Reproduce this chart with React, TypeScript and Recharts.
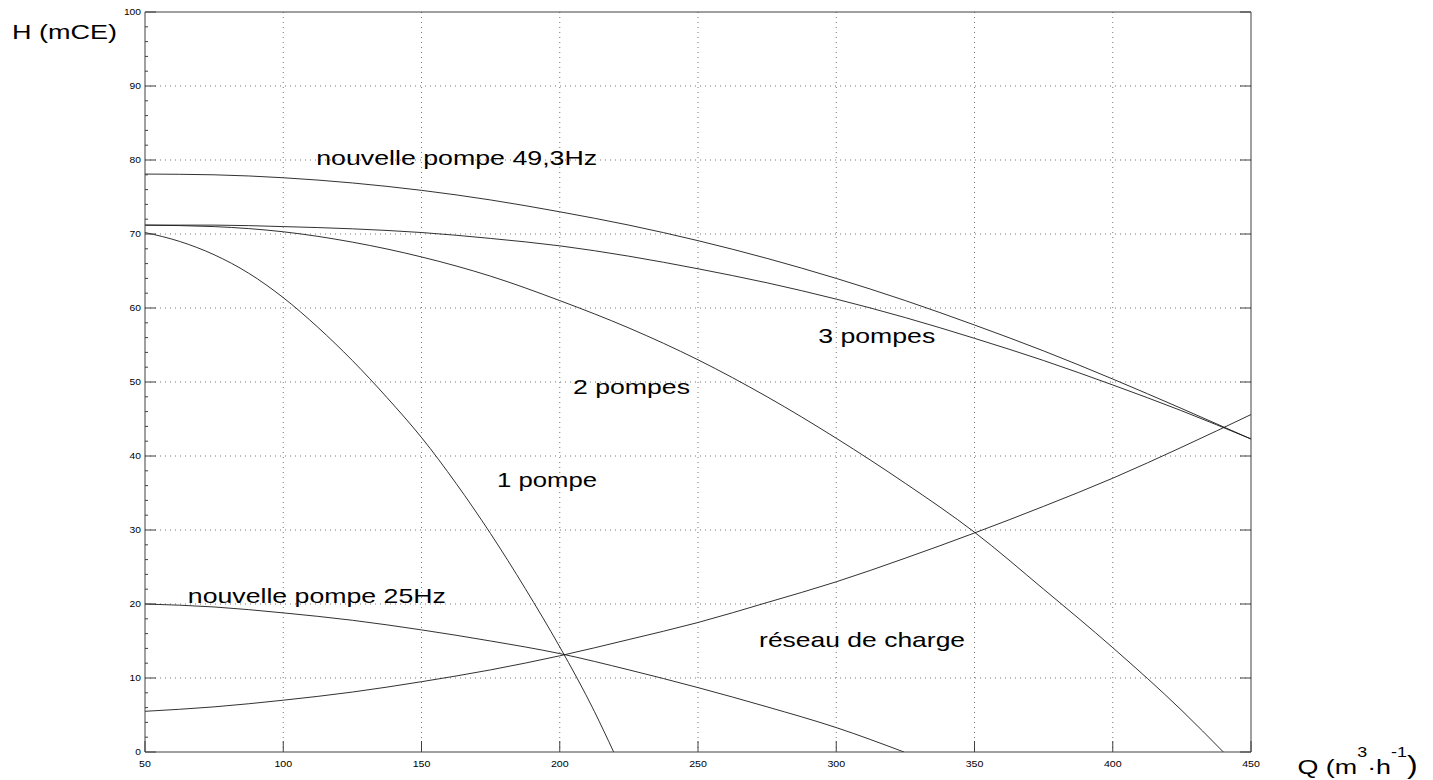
import React from 'react';
import { LineChart, Line, XAxis, YAxis, CartesianGrid, ReferenceDot, Label } from 'recharts';

const Q_TICKS = [50, 100, 150, 200, 250, 300, 350, 400, 450];
const H_TICKS = [0, 2, 4, 6, 8, 10, 12, 14, 16, 18, 20, 22, 24, 26, 28, 30, 32, 34, 36, 38, 40, 42, 44, 46, 48, 50, 52, 54, 56, 58, 60, 62, 64, 66, 68, 70, 72, 74, 76, 78, 80, 82, 84, 86, 88, 90, 92, 94, 96, 98, 100];
const H_MAJOR = [0, 10, 20, 30, 40, 50, 60, 70, 80, 90, 100];
const GRID_H = [10, 20, 30, 40, 50, 60, 70, 80, 90];
const GRID_Q = [100, 150, 200, 250, 300, 350, 400];

// nouvelle pompe 49,3Hz
const q49 = [50, 75, 100, 125, 150, 175, 200, 225, 250, 275, 300, 325, 350, 375, 400, 425, 450];
const h49 = [78.1, 78.0, 77.6, 76.9, 75.9, 74.6, 73.0, 71.2, 69.1, 66.7, 64.0, 61.0, 57.7, 54.2, 50.4, 46.4, 42.3];

// 3 pompes
const q3 = [50, 75, 100, 125, 150, 175, 200, 225, 250, 275, 300, 325, 350, 375, 400, 425, 450];
const h3 = [71.2, 71.2, 71.0, 70.7, 70.2, 69.4, 68.4, 67.0, 65.3, 63.4, 61.2, 58.7, 55.9, 52.9, 49.6, 46.1, 42.3];

// 2 pompes
const q2 = [50, 75, 100, 125, 150, 175, 200, 225, 250, 275, 300, 325, 350, 375, 400, 425, 440];
const h2 = [71.2, 71.0, 70.3, 68.9, 66.9, 64.3, 61.0, 57.3, 53.0, 48.0, 42.4, 36.3, 29.7, 22.0, 14.1, 5.6, 0];

// 1 pompe
const q1 = [50, 62.5, 75, 87.5, 100, 112.5, 125, 137.5, 150, 162.5, 175, 187.5, 200, 212.5, 219.5];
const h1 = [70.2, 69.0, 67.2, 64.7, 61.4, 57.4, 52.9, 47.9, 42.5, 36.3, 29.5, 22.1, 14.2, 5.5, 0];

// nouvelle pompe 25Hz
const q25 = [50, 75, 100, 125, 150, 175, 200, 225, 250, 275, 300, 324.5];
const h25 = [20.0, 19.6, 18.8, 17.8, 16.5, 15.0, 13.3, 11.1, 8.7, 6.1, 3.3, 0];

// réseau de charge
const qRes = [50, 75, 100, 125, 150, 175, 200, 225, 250, 275, 300, 325, 350, 375, 400, 425, 450];
const hRes = [5.5, 6.1, 7.0, 8.1, 9.5, 11.1, 13.0, 15.2, 17.5, 20.2, 23.0, 26.2, 29.6, 33.2, 37.0, 41.2, 45.6];

// annotations (anchor = left end of the text baseline)
const LABEL_TEXT = ['nouvelle pompe 49,3Hz', '3 pompes', '2 pompes', '1 pompe', 'nouvelle pompe 25Hz', 'réseau de charge'];
const LABEL_Q = [111.9, 293.5, 204.8, 177.3, 65.5, 272.1];
const LABEL_H = [79.3, 55.3, 48.35, 35.76, 20.1, 14.25];
const LABEL_W = [281, 117, 117, 100, 258, 206];

const zip = (qs: number[], hs: number[]) => qs.map((q, i) => ({ q, h: hs[i] }));

const SERIES = [
  { name: 'nouvelle pompe 49,3Hz', data: zip(q49, h49) },
  { name: '3 pompes', data: zip(q3, h3) },
  { name: '2 pompes', data: zip(q2, h2) },
  { name: '1 pompe', data: zip(q1, h1) },
  { name: 'nouvelle pompe 25Hz', data: zip(q25, h25) },
  { name: 'réseau de charge', data: zip(qRes, hRes) },
];

const FONT = '"Liberation Sans", Arial, Helvetica, sans-serif';
const AXIS = '#404040';
const TICK_LEN = 11;

const LeftTick = (props: any) => {
  const { x, y, payload } = props;
  const v = payload.value;
  const major = v % 10 === 0;
  const s = String(v);
  return (
    <g>
      <line x1={x} x2={x + (major ? TICK_LEN : 3)} y1={y} y2={y} stroke={AXIS} strokeWidth={1} />
      {major && (
        <text x={x - 4} y={y + 3} textAnchor="end" fontSize={8.5} fontFamily={FONT} fill="#000"
          textLength={s.length * 5.7} lengthAdjust="spacingAndGlyphs">{s}</text>
      )}
    </g>
  );
};

const RightTick = (props: any) => {
  const { x, y, payload } = props;
  const v = payload.value;
  if (v % 10 !== 0) return <g />;
  return <line x1={x} x2={x - TICK_LEN} y1={y} y2={y} stroke={AXIS} strokeWidth={1} />;
};

const BottomTick = (props: any) => {
  const { x, y, payload } = props;
  const s = String(payload.value);
  return (
    <g>
      <line x1={x} x2={x} y1={y} y2={y - TICK_LEN} stroke={AXIS} strokeWidth={1} />
      <text x={x} y={y + 15} textAnchor="middle" fontSize={8.5} fontFamily={FONT} fill="#000"
        textLength={s.length * 5.9} lengthAdjust="spacingAndGlyphs">{s}</text>
    </g>
  );
};

const TopTick = (props: any) => {
  const { x, y } = props;
  return <line x1={x} x2={x} y1={y} y2={y + TICK_LEN} stroke={AXIS} strokeWidth={1} />;
};

const makeAnno = (text: string, width: number) => (props: any) => {
  const vb = props.viewBox || {};
  const x = (vb.x ?? 0) + (vb.width ?? 0) / 2;
  const y = (vb.y ?? 0) + (vb.height ?? 0) / 2;
  return (
    <text x={x} y={y} fontSize={21} fontFamily={FONT} fill="#000"
      textLength={width} lengthAdjust="spacingAndGlyphs">{text}</text>
  );
};

const YTitle = (props: any) => {
  const vb = props.viewBox || {};
  return (
    <text x={(vb.x ?? 0) + 12} y={(vb.y ?? 0) + 27} fontSize={21} fontFamily={FONT} fill="#000"
      textLength={105} lengthAdjust="spacingAndGlyphs">H (mCE)</text>
  );
};

const XTitle = (props: any) => {
  const vb = props.viewBox || {};
  const x0 = (vb.x ?? 0) + (vb.width ?? 0) + 46.5;
  const y0 = (vb.y ?? 0) + 22;
  return (
    <g transform={`translate(${x0}, ${y0}) scale(1.28, 1)`}>
      <text x={0} y={0} fontSize={21} fontFamily={FONT} fill="#000">
        Q (m<tspan dy={-17} fontSize={14}>3</tspan><tspan dy={17}>·h</tspan><tspan dy={-17} fontSize={14}>-1</tspan><tspan dy={17} fontSize={25}>)</tspan>
      </text>
    </g>
  );
};

export default function App() {
  return (
    <div style={{ position: 'absolute', left: 0, top: 0, width: 1433, height: 780, background: '#fff' }}>
      <LineChart width={1433} height={780} margin={{ top: 11, right: 172, bottom: 0, left: 0 }}>
        <CartesianGrid stroke="#777" strokeDasharray="1 4" horizontalValues={GRID_H} verticalValues={GRID_Q} />
        <XAxis dataKey="q" type="number" domain={[50, 450]} ticks={Q_TICKS} interval={0} allowDataOverflow
          height={28} tickSize={0} tickMargin={0} tickLine={false} axisLine={{ stroke: AXIS }} tick={<BottomTick />}>
          <Label content={<XTitle />} />
        </XAxis>
        <XAxis xAxisId="top" orientation="top" type="number" domain={[50, 450]} ticks={Q_TICKS} interval={0} allowDataOverflow
          height={1} tickSize={0} tickMargin={0} tickLine={false} axisLine={{ stroke: AXIS }} tick={<TopTick />} />
        <YAxis type="number" domain={[0, 100]} ticks={H_TICKS} interval={0} allowDataOverflow
          width={145} tickSize={0} tickMargin={0} tickLine={false} axisLine={{ stroke: AXIS }} tick={<LeftTick />}>
          <Label content={<YTitle />} />
        </YAxis>
        <YAxis yAxisId="right" orientation="right" type="number" domain={[0, 100]} ticks={H_MAJOR} interval={0} allowDataOverflow
          width={10} tickSize={0} tickMargin={0} tickLine={false} axisLine={{ stroke: AXIS }} tick={<RightTick />} />
        {SERIES.map((s) => (
          <Line key={s.name} data={s.data} dataKey="h" name={s.name} type="monotone" stroke="#1a1a1a" strokeWidth={0.9}
            dot={false} activeDot={false} isAnimationActive={false} />
        ))}
        {LABEL_TEXT.map((t, i) => (
          <ReferenceDot key={t} x={LABEL_Q[i]} y={LABEL_H[i]} r={0} fill="none" stroke="none"
            label={{ content: makeAnno(t, LABEL_W[i]) }} />
        ))}
      </LineChart>
    </div>
  );
}
